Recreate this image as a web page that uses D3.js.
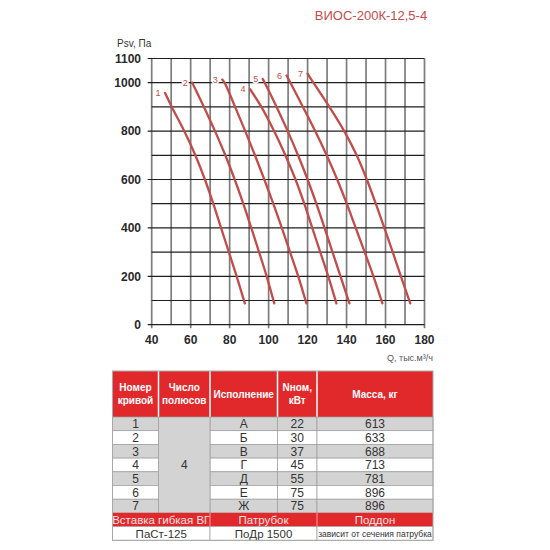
<!DOCTYPE html>
<html>
<head>
<meta charset="utf-8">
<script src="https://cdn.jsdelivr.net/npm/d3@7"></script>
<style>
  body { margin: 0; background: #fff; }
  svg { display: block; font-family: "Liberation Sans", Arial, sans-serif; }
</style>
</head>
<body>
<svg id="chart" width="550" height="550"></svg>
<script>
// ---------------------- DATA ----------------------
const title = "ВИОС-200К-12,5-4";

// curves: [Q тыс.м3/ч, Psv Па]
const curve1 = [[46.8, 958], [50.3, 900], [56.7, 800], [62.4, 700], [67.3, 600], [71.6, 500], [75.6, 400], [79.6, 300], [83.6, 200], [87.8, 88]];
const curve2 = [[60.8, 1000], [66.8, 900], [72.5, 800], [77.8, 700], [82.6, 600], [87, 500], [91.1, 400], [95.1, 300], [99, 200], [102.9, 88]];
const curve3 = [[76.2, 1013], [77.4, 1000], [82.8, 900], [88, 800], [93, 700], [97.8, 600], [102.4, 500], [106.8, 400], [111, 300], [115.2, 200], [119.4, 88]];
const curve4 = [[90.5, 973], [96.3, 900], [102.8, 800], [108.6, 700], [113.8, 600], [118.3, 500], [122.4, 400], [126.5, 300], [130.6, 200], [134.8, 88]];
const curve5 = [[97, 1015], [98, 1000], [104.1, 900], [109.8, 800], [115.1, 700], [120, 600], [124.5, 500], [128.7, 400], [132.8, 300], [136.9, 200], [141.5, 88]];
const curve6 = [[109.2, 1030], [111.2, 1000], [117.6, 900], [123.9, 800], [129.8, 700], [135.2, 600], [140.1, 500], [144.7, 400], [149.3, 300], [153.8, 200], [158.4, 88]];
const curve7 = [[120, 1037], [123, 1000], [131.2, 900], [138.8, 800], [145.2, 700], [150.4, 600], [155, 500], [159.4, 400], [163.7, 300], [167.9, 200], [172.7, 88]];
const curveList = [curve1, curve2, curve3, curve4, curve5, curve6, curve7];
const curveNames = ["1", "2", "3", "4", "5", "6", "7"];

const xTicks = [40, 60, 80, 100, 120, 140, 160, 180];
const yTicks = [0, 200, 400, 600, 800, 1000, 1100];

// table
const tableHead = [["Номер", "кривой"], ["Число", "полюсов"], ["Исполнение"], ["Nном,", "кВт"], ["Масса, кг"]];
const curveNums = ["1", "2", "3", "4", "5", "6", "7"];
const poles = "4";
const versions = ["А", "Б", "В", "Г", "Д", "Е", "Ж"];
const powers = ["22", "30", "37", "45", "55", "75", "75"];
const masses = ["613", "633", "688", "713", "781", "896", "896"];
const footHead = ["Вставка гибкая ВГ", "Патрубок", "Поддон"];
const footVals = ["ПаСт-125", "ПоДр 1500", "зависит от сечения патрубка"];

// ---------------------- CHART ----------------------
const svg = d3.select("#chart");
const red = "#c24c49";

const x = d3.scaleLinear().domain([40, 180]).range([151.7, 424.5]);
const y = d3.scaleLinear().domain([0, 1100]).range([324.7, 58.5]);

svg.append("rect").attr("width", 550).attr("height", 550).attr("fill", "#fff");

svg.append("text")
    .attr("x", 371).attr("y", 20)
    .attr("text-anchor", "middle")
    .attr("fill", red)
    .style("font-size", "13px")
    .text(title);

const grid = svg.append("g");

// vertical grid
grid.selectAll(".vline")
    .data(d3.range(40, 181, 10))
    .join("line")
    .attr("x1", d => x(d)).attr("x2", d => x(d))
    .attr("y1", y(1100))
    .attr("y2", d => xTicks.includes(d) ? y(0) + 3.5 : y(0))
    .attr("stroke", "#7d7d7d")
    .attr("stroke-width", 1.7);

// horizontal grid
grid.selectAll(".hline")
    .data(d3.range(0, 1101, 100))
    .join("line")
    .attr("x1", d => yTicks.includes(d) ? x(40) - 4 : x(40))
    .attr("x2", x(180))
    .attr("y1", d => y(d)).attr("y2", d => y(d))
    .attr("stroke", "#1e1e1e")
    .attr("stroke-width", 1.2);

// tick labels
svg.selectAll(".ytl")
    .data(yTicks)
    .join("text")
    .attr("x", 141).attr("y", d => y(d))
    .attr("dy", "0.36em")
    .attr("text-anchor", "end")
    .attr("fill", "#2a2a2a")
    .style("font-size", "12px").style("font-weight", "bold")
    .text(d => d);

svg.selectAll(".xtl")
    .data(xTicks)
    .join("text")
    .attr("x", d => x(d)).attr("y", 344)
    .attr("text-anchor", "middle")
    .attr("fill", "#2a2a2a")
    .style("font-size", "12px").style("font-weight", "bold")
    .text(d => d);

svg.append("text")
    .attr("x", 117).attr("y", 47)
    .attr("fill", "#333")
    .style("font-size", "10px")
    .text("Psv, Па");

svg.append("text")
    .attr("x", 433).attr("y", 361)
    .attr("text-anchor", "end")
    .attr("fill", "#555")
    .style("font-size", "9px")
    .style("font-family", "'Liberation Sans Narrow', 'Liberation Sans', sans-serif")
    .text("Q, тыс.м³/ч");

// curves
const line = d3.line()
    .x(d => x(d[0]))
    .y(d => y(d[1]))
    .curve(d3.curveCatmullRom.alpha(0.5));

svg.selectAll(".curve")
    .data(curveList)
    .join("path")
    .attr("d", line)
    .attr("fill", "none")
    .attr("stroke", red)
    .attr("stroke-width", 2.3)
    .attr("stroke-linecap", "round");

// curve labels with a white halo (they break the 1000 line)
svg.selectAll(".clabel")
    .data(curveList)
    .join("text")
    .attr("x", d => x(d[0][0]) - 7)
    .attr("y", d => y(d[0][1]))
    .attr("dy", "0.35em")
    .attr("text-anchor", "middle")
    .attr("fill", red)
    .attr("stroke", "#fff")
    .attr("stroke-width", 3)
    .attr("paint-order", "stroke")
    .style("font-size", "9px")
    .text((d, i) => curveNames[i]);

// ---------------------- TABLE ----------------------
const cols = [112.5, 158.5, 210, 277.5, 317, 433];
const headTop = 371, headBot = 417, rowH = 13.7;
const tRed = "#e1292b", tGrey = "#d3d3d3", tBorder = "#9c9c9c";
const narrow = "'Liberation Sans Narrow', 'Liberation Sans', sans-serif";
const table = svg.append("g");

// header
table.append("rect")
    .attr("x", cols[0]).attr("y", headTop)
    .attr("width", cols[5] - cols[0]).attr("height", headBot - headTop)
    .attr("fill", tRed);

tableHead.forEach((lines, i) => {
    const cx = (cols[i] + cols[i + 1]) / 2;
    const cy = (headTop + headBot) / 2;
    const t = table.append("text")
        .attr("text-anchor", "middle")
        .attr("fill", "#fff")
        .style("font-size", "10px").style("font-weight", "bold");
    lines.forEach((s, k) => {
        t.append("tspan")
            .attr("x", cx)
            .attr("y", cy + (k - (lines.length - 1) / 2) * 13 + 3.5)
            .text(s);
    });
    if (i > 0) {
        table.append("line")
            .attr("x1", cols[i]).attr("x2", cols[i])
            .attr("y1", headTop).attr("y2", headBot)
            .attr("stroke", "#fff").attr("stroke-width", 1.5);
    }
});

// body rows
curveNums.forEach((n, r) => {
    const top = headBot + r * rowH;
    const fill = r % 2 === 0 ? tGrey : "#fff";
    const vals = [n, null, versions[r], powers[r], masses[r]];
    vals.forEach((v, c) => {
        if (c === 1) return;
        table.append("rect")
            .attr("x", cols[c]).attr("y", top)
            .attr("width", cols[c + 1] - cols[c]).attr("height", rowH)
            .attr("fill", fill)
            .attr("stroke", tBorder).attr("stroke-width", 0.7);
        table.append("text")
            .attr("x", (cols[c] + cols[c + 1]) / 2)
            .attr("y", top + rowH / 2)
            .attr("dy", "0.36em")
            .attr("text-anchor", "middle")
            .attr("fill", "#333")
            .style("font-size", "12px")
            .style("font-family", narrow)
            .text(v);
    });
});

// merged poles cell
table.append("rect")
    .attr("x", cols[1]).attr("y", headBot)
    .attr("width", cols[2] - cols[1]).attr("height", rowH * 7)
    .attr("fill", tGrey)
    .attr("stroke", tBorder).attr("stroke-width", 0.7);
table.append("text")
    .attr("x", (cols[1] + cols[2]) / 2)
    .attr("y", headBot + rowH * 3.5)
    .attr("dy", "0.36em")
    .attr("text-anchor", "middle")
    .attr("fill", "#333")
    .style("font-size", "12px")
    .style("font-family", narrow)
    .text(poles);

// footer
const footTop = headBot + rowH * 7;
const footCols = [[cols[0], cols[2]], [cols[2], cols[4]], [cols[4], cols[5]]];
table.append("rect")
    .attr("x", cols[0]).attr("y", footTop)
    .attr("width", cols[5] - cols[0]).attr("height", rowH)
    .attr("fill", tRed);

footCols.forEach(([a, b], i) => {
    if (i > 0) {
        table.append("line")
            .attr("x1", a).attr("x2", a)
            .attr("y1", footTop).attr("y2", footTop + rowH)
            .attr("stroke", "#f0a0a0").attr("stroke-width", 1);
    }
    table.append("text")
        .attr("x", (a + b) / 2).attr("y", footTop + rowH / 2)
        .attr("dy", "0.36em")
        .attr("text-anchor", "middle")
        .attr("fill", "#fbe3e3")
        .style("font-size", "11.5px")
        .style("font-family", narrow)
        .text(footHead[i]);

    table.append("rect")
        .attr("x", a).attr("y", footTop + rowH)
        .attr("width", b - a).attr("height", rowH)
        .attr("fill", "#fff")
        .attr("stroke", tBorder).attr("stroke-width", 0.7);
    table.append("text")
        .attr("x", (a + b) / 2).attr("y", footTop + rowH * 1.5)
        .attr("dy", "0.36em")
        .attr("text-anchor", "middle")
        .attr("fill", "#333")
        .style("font-size", i === 2 ? "8.5px" : "11.5px")
        .style("font-family", narrow)
        .text(footVals[i]);
});

// outer frame
table.append("rect")
    .attr("x", cols[0]).attr("y", headTop)
    .attr("width", cols[5] - cols[0]).attr("height", footTop + rowH * 2 - headTop)
    .attr("fill", "none")
    .attr("stroke", "#a8a8a8").attr("stroke-width", 1);
</script>
</body>
</html>
